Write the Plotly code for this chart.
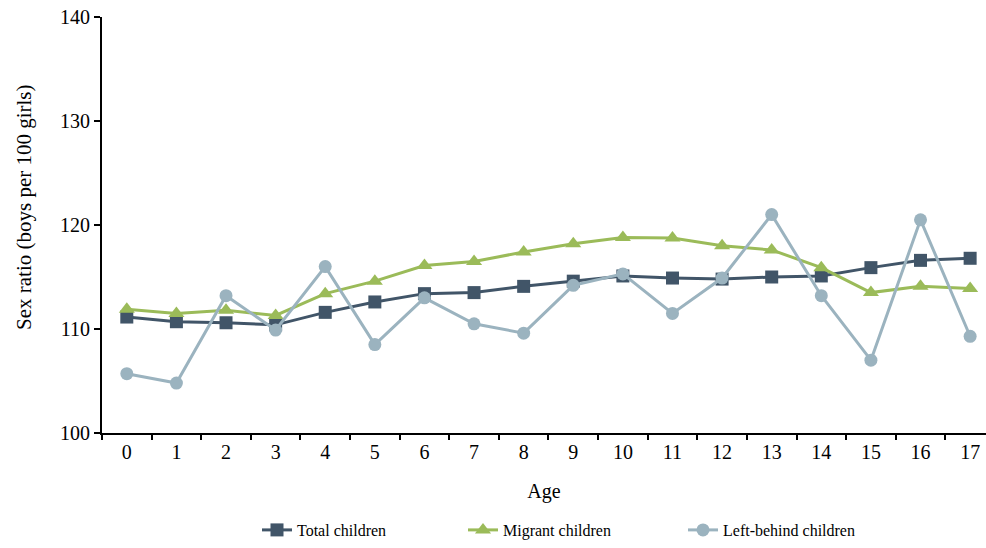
import plotly.graph_objects as go

ages = [str(i) for i in range(18)]
total = [111.15, 110.7, 110.6, 110.4, 111.6, 112.6, 113.4, 113.5, 114.1, 114.6, 115.1, 114.9, 114.8, 115.0, 115.1, 115.9, 116.6, 116.8]
migrant = [111.9, 111.5, 111.8, 111.3, 113.4, 114.6, 116.1, 116.5, 117.4, 118.2, 118.8, 118.75, 118.0, 117.6, 115.9, 113.5, 114.1, 113.9]
left_behind = [105.7, 104.8, 113.2, 109.9, 116.0, 108.5, 113.0, 110.5, 109.6, 114.2, 115.3, 111.5, 114.9, 121.0, 113.2, 107.0, 120.5, 109.3]
y_ticks = [100, 110, 120, 130, 140]

FONT = "Liberation Serif"
L, R, T, B = 102, 0, 17, 115
PW = 986 - L - R
PH = 548 - T - B

def px_x(p):
    return (p - L) / PW

def px_y(p):
    return (548 - B - p) / PH

fig = go.Figure()
fig.add_trace(go.Scatter(x=ages, y=total, name="Total children", mode="lines+markers",
                         line=dict(color="#415568", width=3),
                         marker=dict(symbol="square", size=13, color="#415568"),
                         legend="legend"))
fig.add_trace(go.Scatter(x=ages, y=migrant, name="Migrant children", mode="lines+markers",
                         line=dict(color="#9BBB59", width=3),
                         marker=dict(symbol="triangle-up", size=14, color="#9BBB59"),
                         legend="legend2"))
fig.add_trace(go.Scatter(x=ages, y=left_behind, name="Left-behind children", mode="lines+markers",
                         line=dict(color="#9BB3BF", width=3),
                         marker=dict(symbol="circle", size=13, color="#9BB3BF"),
                         legend="legend3"))

leg_common = dict(orientation="h", xanchor="left", yanchor="middle", y=px_y(530),
                  font=dict(family=FONT, size=16, color="black"), bgcolor="rgba(0,0,0,0)")

fig.update_layout(
    width=986, height=548,
    margin=dict(l=L, r=R, t=T, b=B),
    plot_bgcolor="white", paper_bgcolor="white",
    font=dict(family=FONT, size=20, color="black"),
    showlegend=True,
    legend=dict(x=px_x(300 - 43), **leg_common),
    legend2=dict(x=px_x(506 - 43), **leg_common),
    legend3=dict(x=px_x(726 - 43), **leg_common),
    xaxis=dict(type="category", range=[-0.5, 17.32], showline=True, linecolor="black", linewidth=2,
               ticks="outside", tickson="boundaries", ticklen=5, tickcolor="black", tickwidth=1.5,
               showgrid=False, zeroline=False, automargin=False,
               title=dict(text="Age", font=dict(size=20), standoff=22)),
    yaxis=dict(range=[100, 140], tickvals=y_ticks, showline=True, linecolor="black", linewidth=2,
               ticks="outside", ticklen=6, tickcolor="black", tickwidth=1.5,
               showgrid=False, zeroline=False, automargin=False),
    annotations=[dict(text="Sex ratio (boys per 100 girls)", textangle=-90, showarrow=False,
                      xref="paper", yref="paper", x=px_x(24), y=px_y(207),
                      xanchor="center", yanchor="middle", font=dict(family=FONT, size=21))],
)

fig.write_html("out.html", config={"displayModeBar": False},
               post_script="document.body.style.margin='0';document.body.style.overflow='hidden';")
